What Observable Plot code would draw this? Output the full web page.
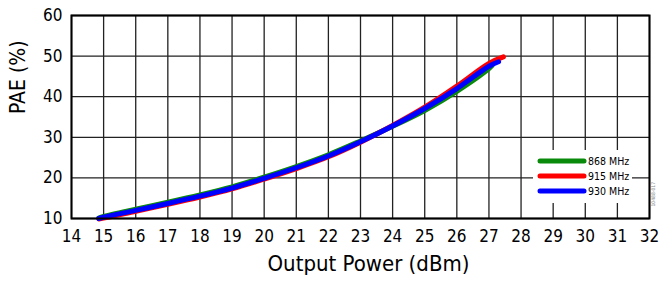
<!DOCTYPE html>
<html>
<head>
<meta charset="utf-8">
<script src="https://cdn.jsdelivr.net/npm/d3@7"></script>
<script src="https://cdn.jsdelivr.net/npm/@observablehq/plot@0.6"></script>
<style>
  html, body { margin: 0; padding: 0; background: #fff; }
  #wrap { position: relative; width: 659px; height: 283px; }
  #legend { position: absolute; background: #fff; }
  #legend svg { display: block; }
</style>
</head>
<body>
<div id="wrap"></div>
<script>
// ---- data ----
const xTicks = [14,15,16,17,18,19,20,21,22,23,24,25,26,27,28,29,30,31,32];
const yTicks = [10,20,30,40,50,60];
const freqs = ["868 MHz", "915 MHz", "930 MHz"];
const colors = ["#0a8a0a", "#ff0000", "#0000ff"];

const pout868 = [14.85, 15, 16, 17, 18, 19, 20, 21, 22, 23, 24, 25, 26, 27, 27.1];
const pae868  = [10.1, 10.5, 12.3, 14.0, 15.8, 17.8, 20.2, 22.8, 25.7, 29.1, 32.7, 36.6, 41.3, 46.9, 47.7];
const pout915 = [14.85, 15, 16, 17, 18, 19, 20, 21, 22, 23, 24, 25, 26, 27, 27.45];
const pae915  = [9.9, 10.1, 11.8, 13.5, 15.3, 17.3, 19.7, 22.3, 25.2, 28.8, 32.9, 37.4, 42.6, 48.2, 49.8];
const pout930 = [14.85, 15, 16, 17, 18, 19, 20, 21, 22, 23, 24, 25, 26, 27, 27.3];
const pae930  = [10.0, 10.3, 12.0, 13.7, 15.5, 17.5, 19.9, 22.5, 25.4, 28.9, 32.8, 37.1, 42.0, 47.5, 48.6];

const xLabel = "Output Power (dBm)";
const yLabel = "PAE (%)";
const noteText = "10488-017";

// ---- build table ----
const series = [[pout868, pae868], [pout915, pae915], [pout930, pae930]];
const rows = [];
series.forEach(([xs, ys], i) => xs.forEach((x, j) => rows.push({freq: freqs[i], x, y: ys[j]})));

const font = "'DejaVu Sans Condensed', 'Liberation Sans Narrow', 'Arial Narrow', sans-serif";

const chart = Plot.plot({
  width: 659,
  height: 283,
  marginLeft: 71,
  marginRight: 10,
  marginTop: 15,
  marginBottom: 65,
  style: { fontFamily: font, fontStretch: "condensed", background: "#fff", color: "#000", overflow: "visible" },
  x: { domain: [14, 32], label: null },
  y: { domain: [10, 60], label: null },
  color: { domain: freqs, range: colors },
  marks: [
    Plot.gridX(xTicks, { stroke: "#222", strokeOpacity: 1, strokeWidth: 1.3 }),
    Plot.gridY(yTicks, { stroke: "#222", strokeOpacity: 1, strokeWidth: 1.3 }),
    Plot.axisX(xTicks, { tickSize: 0, tickPadding: 11, fontSize: 17, label: null, tickFormat: d => String(d) }),
    Plot.axisY(yTicks, { tickSize: 0, tickPadding: 9, fontSize: 17, label: null, tickFormat: d => String(d) }),
    Plot.line(rows, { x: "x", y: "y", z: "freq", stroke: "freq", strokeWidth: 5, curve: "catmull-rom", strokeLinecap: "round" }),
    Plot.frame({ stroke: "#000", strokeWidth: 2 }),
    Plot.text([xLabel], { frameAnchor: "bottom", dx: 8, dy: 52, fontSize: 22, fill: "#000" }),
    Plot.text([yLabel], { frameAnchor: "left", dx: -53, dy: -3, rotate: -90, fontSize: 21, fill: "#000" }),
    Plot.text([noteText], { frameAnchor: "right", dx: 4, dy: 65, rotate: -90, fontSize: 5, fill: "#888" })
  ]
});

const wrap = document.getElementById("wrap");
wrap.appendChild(chart);

// ---- legend (HTML overlay) ----
const leg = document.createElement("div");
leg.id = "legend";
leg.style.left = "533px";
leg.style.top = "150px";
leg.style.width = "99px";
leg.style.height = "53px";
const svg = d3.create("svg").attr("width", 99).attr("height", 53);
freqs.forEach((f, i) => {
  const cy = 11 + i * 15;
  svg.append("line").attr("x1", 7).attr("x2", 51).attr("y1", cy).attr("y2", cy)
    .attr("stroke", colors[i]).attr("stroke-width", 5).attr("stroke-linecap", "round");
  svg.append("text").attr("x", 55).attr("y", cy + 4).attr("font-size", 10.5)
    .attr("font-family", font).attr("font-stretch", "condensed").attr("fill", "#000").text(f);
});
leg.appendChild(svg.node());
wrap.appendChild(leg);
</script>
</body>
</html>
